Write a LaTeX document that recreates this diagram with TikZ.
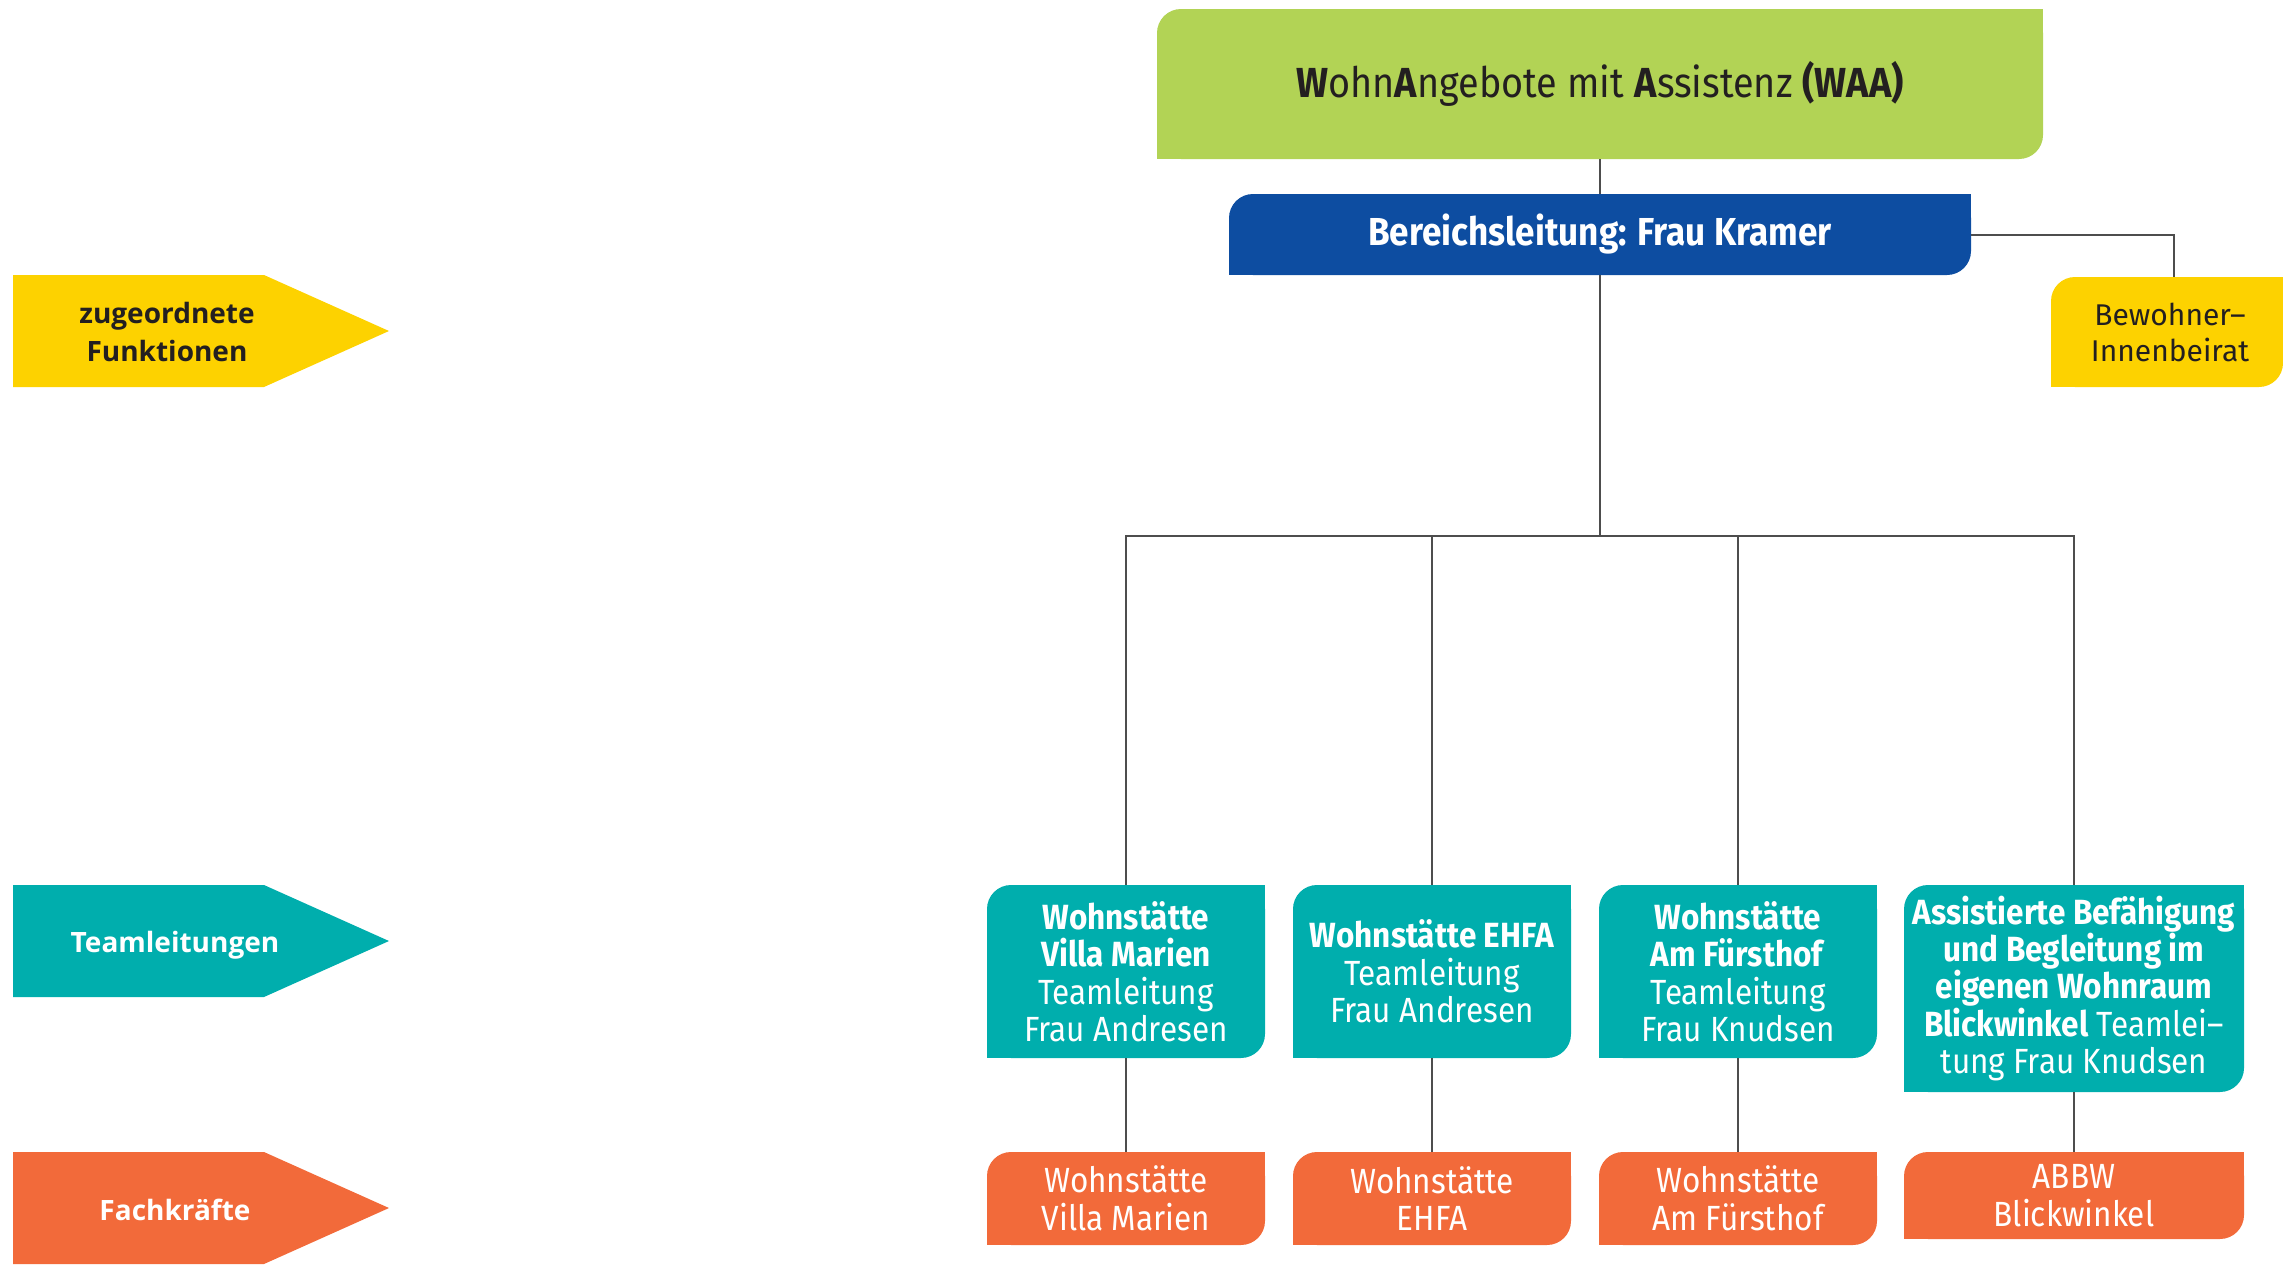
\documentclass[tikz,border=0pt]{standalone}
\usepackage{fontspec}
\setmainfont{Fira Sans}[FakeStretch=0.9]
\newfontfamily\plainfont{Fira Sans}
\newfontfamily\arrowfont{Open Sans}
\definecolor{waagreen}{HTML}{B2D355}
\definecolor{waablue}{HTML}{0D4DA1}
\definecolor{waayellow}{HTML}{FDD200}
\definecolor{waateal}{HTML}{00AEAD}
\definecolor{waaorange}{HTML}{F26A3A}
\definecolor{textdark}{HTML}{231F20}
\definecolor{linegray}{HTML}{4D4D4D}
\tikzset{
  box/.style={inner sep=0pt, align=center, fill=white,
    path picture={
      \fill[#1, rounded corners=24pt] (path picture bounding box.south west) rectangle (path picture bounding box.north east);
      \fill[#1] (path picture bounding box.north east) rectangle ++(-30pt,-30pt);
      \fill[#1] (path picture bounding box.south west) rectangle ++(30pt,30pt);
    }},
  teambox/.style={box=waateal, minimum width=278pt, minimum height=173pt, text=white,
    font=\fontsize{35}{37.5}\selectfont},
  fachbox/.style={box=waaorange, minimum width=278pt, minimum height=93pt, text=white,
    font=\fontsize{35}{37.5}\selectfont},
  conn/.style={draw=linegray, line width=2pt},
  arrowlabel/.style={align=center, inner sep=0pt, font=\arrowfont\bfseries\fontsize{28}{38}\selectfont}
}
\begin{document}
\begin{tikzpicture}[x=1pt, y=-1pt]
\useasboundingbox (0,0) rectangle (2283,1264);
% left level arrows
\fill[waayellow] (13,275) -- (264,275) -- (389,331) -- (264,387) -- (13,387) -- cycle;
\node[arrowlabel, text=textdark] (lab1) at (167,332) {zugeordnete\\Funktionen};
\fill[waateal] (13,885) -- (264,885) -- (389,941) -- (264,997) -- (13,997) -- cycle;
\node[arrowlabel, text=white] (lab2) at (175,945) {Teamleitungen};
\fill[waaorange] (13,1152) -- (264,1152) -- (389,1208) -- (264,1264) -- (13,1264) -- cycle;
\node[arrowlabel, text=white] (lab3) at (175,1210) {Fachkräfte};
% top
\node[box=waagreen, minimum width=886pt, minimum height=150pt, text=textdark,
  font=\fontsize{42}{46}\selectfont] (waa) at (1600,84)
  {\raisebox{-3pt}{\textbf{W}ohn\textbf{A}ngebote mit \textbf{A}ssistenz \textbf{(WAA)}}};
\node[box=waablue, minimum width=742pt, minimum height=81pt, text=white,
  font=\bfseries\fontsize{39}{42}\selectfont] (bl) at (1600,234.5)
  {\raisebox{-4pt}{Bereichsleitung: Frau Kramer}};
\node[box=waayellow, minimum width=232pt, minimum height=110pt, text=textdark,
  font=\plainfont\fontsize{30}{36}\selectfont] (bib) at (2167,332) {\hspace*{6pt}Bewohner–\\\hspace*{6pt}Innenbeirat};
% team leaders
\node[teambox] (t1) at (1126,971.5) {\textbf{Wohnstätte}\\\textbf{Villa Marien}\\Teamleitung\\Frau Andresen};
\node[teambox] (t2) at (1432,971.5) {\textbf{Wohnstätte EHFA}\\Teamleitung\\Frau Andresen};
\node[teambox] (t3) at (1738,971.5) {\textbf{Wohnstätte}\\\textbf{Am Fürsthof}\\Teamleitung\\Frau Knudsen};
\node[teambox, minimum width=340pt, minimum height=207pt] (t4) at (2074,988.5)
  {\raisebox{-3pt}{\textbf{Assistierte Befähigung}}\\\textbf{und Begleitung im}\\\textbf{eigenen Wohnraum}\\\textbf{Blickwinkel} Teamlei–\\tung Frau Knudsen};
% staff
\node[fachbox] (o1) at (1126,1198.5) {Wohnstätte\\Villa Marien};
\node[fachbox] (o2) at (1432,1198.5) {Wohnstätte\\EHFA};
\node[fachbox] (o3) at (1738,1198.5) {Wohnstätte\\Am Fürsthof};
\node[fachbox, minimum width=340pt, minimum height=87pt] (o4) at (2074,1195.5) {ABBW\\Blickwinkel};
% connectors
\coordinate (bar) at (1600,536);
\draw[conn] (waa) -- (bl);
\draw[conn] (bl) -- (bar);
\draw[conn] (bl.east) -| ([xshift=7pt]bib.north);
\foreach \n in {t1,t2,t3,t4} \draw[conn] (bar) -| (\n.north);
\foreach \n in {1,2,3,4} \draw[conn] (t\n) -- (o\n);
\end{tikzpicture}
\end{document}
